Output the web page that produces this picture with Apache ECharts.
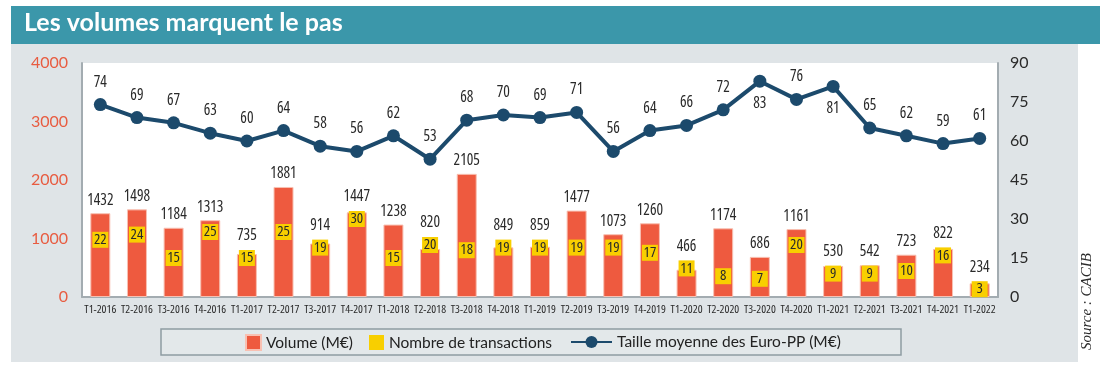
<!DOCTYPE html>
<html>
<head>
<meta charset="utf-8">
<script src="https://cdn.jsdelivr.net/npm/echarts@6/dist/echarts.min.js"></script>
<style>
html,body{margin:0;padding:0;background:#fff;}
#c{width:1100px;height:365px;}
</style>
</head>
<body>
<div id="c"></div>
<script>
const categories = ["T1-2016","T2-2016","T3-2016","T4-2016","T1-2017","T2-2017","T3-2017","T4-2017","T1-2018","T2-2018","T3-2018","T4-2018","T1-2019","T2-2019","T3-2019","T4-2019","T1-2020","T2-2020","T3-2020","T4-2020","T1-2021","T2-2021","T3-2021","T4-2021","T1-2022"];
const volume = [1432,1498,1184,1313,735,1881,914,1447,1238,820,2105,849,859,1477,1073,1260,466,1174,686,1161,530,542,723,822,234];
const transactions = [22,24,15,25,15,25,19,30,15,20,18,19,19,19,19,17,11,8,7,20,9,9,10,16,3];
const tailleMoyenne = [74,69,67,63,60,64,58,56,62,53,68,70,69,71,56,64,66,72,83,76,81,65,62,59,61];
const leftTicks = {min:0, max:4000, interval:1000};
const rightTicks = {min:0, max:90, interval:15};

const COND = '"Open Sans", "DejaVu Sans Condensed", sans-serif';
const MAIN = 'Lato, "Open Sans", sans-serif';

const chart = echarts.init(document.getElementById('c'), null, {renderer:'canvas'});

const plotTop = 63, plotBottom = 297, plotH = plotBottom - plotTop;

const barData = volume.map((v, i) => {
  const barTopPx = v / leftTicks.max * plotH;
  const yellowTopPx = transactions[i] / rightTicks.max * plotH + 8;
  let dist = 5;
  if (yellowTopPx > barTopPx - 2) dist = Math.max(5, yellowTopPx - barTopPx + 6);
  return {value: v, label: {distance: dist}};
});

const lineData = tailleMoyenne.map(v => ({
  value: v,
  label: {position: v > 78 ? 'bottom' : 'top'}
}));

const condLabel = (size) => ({fontFamily: COND, fontWeight: 'condensed', fontSize: size, color: '#2a2a2a'});

const option = {
  animation: false,
  backgroundColor: '#ffffff',
  graphic: [
    {type:'rect', shape:{x:11, y:44, width:1067, height:318}, style:{fill:'#dfe4e7'}, z:-10},
    {type:'rect', shape:{x:11, y:6, width:1089, height:38}, style:{fill:'#3b97aa'}, z:-10},
    {type:'text', left:24, top:10, style:{text:'Les volumes marquent le pas', fill:'#ffffff', font:'bold 25px ' + MAIN}},
    {type:'rect', shape:{x:161, y:329, width:740, height:26}, style:{fill:'#e3e8ea', stroke:'#8e9ca3', lineWidth:1.5}, z:-5},
    {type:'text', x:1095, y:350, rotation:Math.PI/2, style:{text:'Source : CACIB', fill:'#2a2a2a', font:'italic 15px "Liberation Serif", serif', textAlign:'left', textVerticalAlign:'bottom'}}
  ],
  grid: {left:82, right:102, top:plotTop, bottom:365 - plotBottom, show:true, backgroundColor:'#ffffff', borderWidth:0},
  legend: [
    {
      left:245, top:334, padding:0, itemWidth:15, itemHeight:15, itemGap:16,
      data:[{name:'Volume (M€)', icon:'rect'}, {name:'Nombre de transactions', icon:'rect'}],
      textStyle:{fontFamily:MAIN, fontSize:15.5, color:'#222'}
    },
    {
      left:570, top:334, padding:0, itemWidth:41, itemHeight:15,
      data:[{name:'Taille moyenne des Euro-PP (M€)'}],
      textStyle:{fontFamily:MAIN, fontSize:15.5, color:'#222'}
    }
  ],
  xAxis: {
    type:'category', data:categories,
    axisLine:{show:true, lineStyle:{color:'#a3acb1', width:2}},
    axisTick:{show:false},
    axisLabel:Object.assign(condLabel(11.5), {margin:7, interval:0})
  },
  yAxis: [
    {
      type:'value', min:leftTicks.min, max:leftTicks.max, interval:leftTicks.interval,
      axisLine:{show:true, lineStyle:{color:'#a3acb1', width:2}},
      axisTick:{show:false}, splitLine:{show:false},
      axisLabel:{fontFamily:MAIN, fontSize:16, color:'#e85c41', margin:14, formatter: v => String(v)}
    },
    {
      type:'value', min:rightTicks.min, max:rightTicks.max, interval:rightTicks.interval,
      axisLine:{show:true, lineStyle:{color:'#a3acb1', width:2}},
      axisTick:{show:false}, splitLine:{show:false},
      axisLabel:{fontFamily:MAIN, fontSize:16, color:'#2a2a2a', margin:12, formatter: v => String(v)}
    }
  ],
  series: [
    {
      name:'Volume (M€)', type:'bar', data:barData, barWidth:20, yAxisIndex:0,
      itemStyle:{color:'#ee5a3f', borderColor:'#f8c0b2', borderWidth:1},
      label:Object.assign(condLabel(15.5), {show:true, position:'top'}),
      z:2
    },
    {
      name:'Nombre de transactions', type:'scatter', data:transactions, yAxisIndex:1,
      symbol:'rect', symbolSize:[16,16],
      itemStyle:{color:'#f8cf00', opacity:1},
      label:Object.assign(condLabel(15), {show:true, position:'inside'}),
      z:4
    },
    {
      name:'Taille moyenne des Euro-PP (M€)', type:'line', data:lineData, yAxisIndex:1,
      symbol:'circle', symbolSize:13,
      lineStyle:{color:'#1c4a6c', width:4},
      itemStyle:{color:'#1c4a6c'},
      label:Object.assign(condLabel(15.5), {show:true, distance:8}),
      z:5
    }
  ]
};
chart.setOption(option);
</script>
</body>
</html>
